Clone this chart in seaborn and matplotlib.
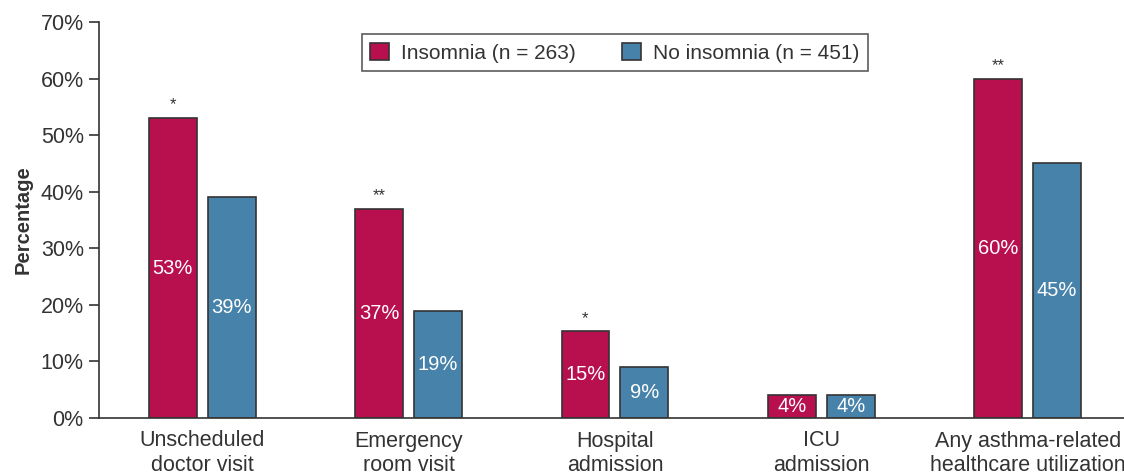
import pandas as pd
import seaborn as sns
import matplotlib.pyplot as plt

# values
categories = ["Unscheduled\ndoctor visit", "Emergency\nroom visit", "Hospital\nadmission",
              "ICU\nadmission", "Any asthma-related\nhealthcare utilization"]
insomnia = [53, 37, 15.3, 4, 60]
no_insomnia = [39, 19, 9, 4, 45]
insomnia_labels = ["53%", "37%", "15%", "4%", "60%"]
no_insomnia_labels = ["39%", "19%", "9%", "4%", "45%"]
stars = ["*", "**", "*", "", "**"]
groups = ["Insomnia (n = 263)", "No insomnia (n = 451)"]

df = pd.DataFrame({
    "category": categories * 2,
    "value": insomnia + no_insomnia,
    "group": [groups[0]] * len(categories) + [groups[1]] * len(categories),
})

sns.set_style("white")
plt.rcParams["font.family"] = ["Liberation Sans", "DejaVu Sans"]
dark = "#333333"

fig = plt.figure(figsize=(11.24, 4.75), dpi=100)
ax = fig.add_axes([0.0881, 0.12, 0.918, 0.8337])

sns.barplot(data=df, x="category", y="value", hue="group",
            palette=["#B80F4E", "#4682A9"], saturation=1, width=0.571, gap=0.186,
            edgecolor=dark, linewidth=1.2, errorbar=None, ax=ax)

ax.set_ylim(0, 70)
ax.set_xlim(-0.5, 4.5)
ax.set_yticks(range(0, 71, 10))
ax.set_yticklabels([f"{t}%" for t in range(0, 71, 10)])
ax.tick_params(axis="y", direction="out", length=7, width=1.2, color=dark,
               labelsize=15.5, labelcolor=dark, pad=4, left=True)
ax.tick_params(axis="x", length=0, labelsize=15.5, labelcolor=dark, pad=9)
for s in ["top", "right"]:
    ax.spines[s].set_visible(False)
for s in ["left", "bottom"]:
    ax.spines[s].set_color(dark)
    ax.spines[s].set_linewidth(1.2)

ax.set_xlabel("")
ax.set_ylabel("Percentage", fontsize=14.5, fontweight="bold", color=dark, labelpad=6)

ax.bar_label(ax.containers[0], labels=insomnia_labels, label_type="center",
             color="white", fontsize=14.5)
ax.bar_label(ax.containers[1], labels=no_insomnia_labels, label_type="center",
             color="white", fontsize=14.5)
ax.bar_label(ax.containers[0], labels=stars, padding=4, color=dark, fontsize=12)

ax.get_legend().remove()
handles = ax.containers[0].patches[:1] + ax.containers[1].patches[:1]
leg = fig.legend(handles, groups, loc="center", bbox_to_anchor=(0.547, 0.889),
                 ncol=2, fontsize=15, frameon=True, fancybox=False,
                 handlelength=0.9, handleheight=0.9, handletextpad=0.6,
                 columnspacing=2.2, borderpad=0.4, labelcolor=dark)
leg.get_frame().set_edgecolor(dark)
leg.get_frame().set_linewidth(1.2)

fig.savefig("out.png", dpi=100)
